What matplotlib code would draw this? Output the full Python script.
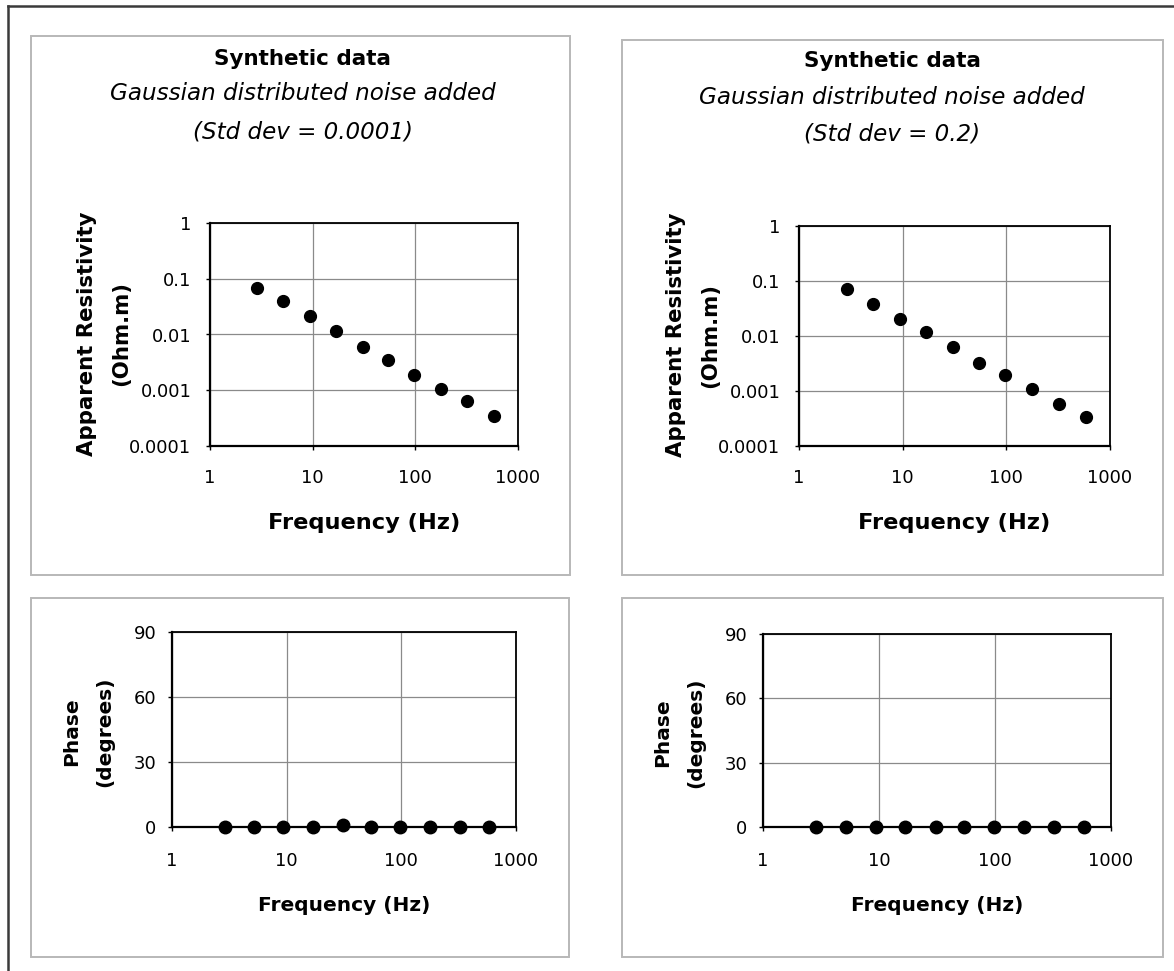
import matplotlib
matplotlib.use("Agg")
import matplotlib.pyplot as plt
from matplotlib.lines import Line2D
from matplotlib.patches import Rectangle

# frequencies (Hz)
freq = [2.88, 5.19, 9.33, 16.8, 30.9, 54.5, 97.7, 178, 322, 583]

# apparent resistivity (Ohm.m), left = std dev 0.0001, right = std dev 0.2
rho_low = [0.067, 0.040, 0.0212, 0.0114, 0.0060, 0.00349, 0.0019, 0.00105, 0.00063, 0.00035]
rho_high = [0.071, 0.0374, 0.0203, 0.0118, 0.0062, 0.00327, 0.00195, 0.00107, 0.00058, 0.00034]

# phase (degrees)
phase_low = [0, 0, 0, 0, 0.8, 0, 0, 0, 0, 0]
phase_high = [0, 0, 0, 0, 0, 0, 0, 0, 0, 0]

x_ticks = [1, 10, 100, 1000]
x_labels = ["1", "10", "100", "1000"]
rho_ticks = [0.0001, 0.001, 0.01, 0.1, 1]
rho_labels = ["0.0001", "0.001", "0.01", "0.1", "1"]
phase_ticks = [0, 30, 60, 90]
phase_labels = ["0", "30", "60", "90"]

titles = ["Synthetic data", "Synthetic data"]
subtitles = ["Gaussian distributed noise added", "Gaussian distributed noise added"]
stds = ["(Std dev = 0.0001)", "(Std dev = 0.2)"]

W, H = 1174, 971
plt.rcParams['font.family'] = ['DejaVu Sans']

fig = plt.figure(figsize=(W / 100, H / 100), dpi=100)
fig.patch.set_facecolor("white")


def fx(px):
    return px / W


def fy(py):
    return 1 - py / H


def make_axes(left, right, top, bottom):
    return fig.add_axes([fx(left), fy(bottom), (right - left) / W, (bottom - top) / H])


def style(ax, ypad, xpad):
    for side in ["top", "right", "left", "bottom"]:
        ax.spines[side].set_color("black")
        ax.spines[side].set_linewidth(1.3)
    ax.spines["left"].set_linewidth(1.6)
    ax.spines["bottom"].set_linewidth(1.6)
    ax.grid(True, which="major", color="#8a8a8a", linewidth=0.9)
    ax.set_axisbelow(True)
    ax.minorticks_off()
    ax.tick_params(axis="both", which="major", direction="out", length=3, width=1,
                   labelsize=13, colors="black")
    ax.tick_params(axis="y", pad=ypad)
    ax.tick_params(axis="x", pad=xpad)


# outer frame (top and left only)
fig.add_artist(Line2D([fx(8), 1], [fy(6.5), fy(6.5)], color="#3a3a3a", lw=1.8,
                      transform=fig.transFigure))
fig.add_artist(Line2D([fx(8), fx(8)], [fy(6.5), 0], color="#3a3a3a", lw=1.8,
                      transform=fig.transFigure))

# light panel boxes
boxes = [(31, 570, 36.5, 574.5), (622, 1163, 40, 575), (31, 569, 598, 957), (622, 1163, 598, 957)]
for l, r, t, b in boxes:
    fig.add_artist(Rectangle((fx(l), fy(b)), (r - l) / W, (b - t) / H, fill=False,
                             edgecolor="#b8b8b8", lw=1.4, transform=fig.transFigure))

# ---- resistivity panels ----
rho_axes = [(210, 518, 223, 446), (799, 1110, 226, 446)]
rho_sets = [rho_low, rho_high]
title_x = [303, 892]
title_y = [(59, 94, 132), (61, 97, 134)]
for i in range(2):
    l, r, t, b = rho_axes[i]
    ax = make_axes(l, r, t, b)
    ax.set_xscale("log")
    ax.set_yscale("log")
    ax.set_xlim(1, 1000)
    ax.set_ylim(0.0001, 1)
    ax.plot(freq, rho_sets[i], "o", color="black", markersize=8.5, clip_on=False, zorder=5)
    ax.set_xticks(x_ticks)
    ax.set_xticklabels(x_labels)
    ax.set_yticks(rho_ticks)
    ax.set_yticklabels(rho_labels)
    style(ax, 10.4, 13.3)

    fig.text(fx(title_x[i]), fy(title_y[i][0]), titles[i], ha="center", va="center",
             fontsize=15.5, fontweight="bold")
    fig.text(fx(title_x[i]), fy(title_y[i][1]), subtitles[i], ha="center", va="center",
             fontsize=16.6, style="italic")
    fig.text(fx(title_x[i]), fy(title_y[i][2]), stds[i], ha="center", va="center",
             fontsize=16.6, style="italic")

    yc = (t + b) / 2 - 1
    fig.text(fx(l - 123), fy(yc), "Apparent Resistivity", rotation=90, ha="center",
             va="center", fontsize=15.3, fontweight="bold")
    fig.text(fx(l - 89), fy(yc), "(Ohm.m)", rotation=90, ha="center", va="center",
             fontsize=15.3, fontweight="bold")
    fig.text(fx((l + r) / 2), fy(523), "Frequency (Hz)", ha="center", va="center",
             fontsize=16.2, fontweight="bold")

# ---- phase panels ----
phase_axes = [(172, 516, 632, 827), (763, 1111, 634, 827)]
phase_sets = [phase_low, phase_high]
for i in range(2):
    l, r, t, b = phase_axes[i]
    ax = make_axes(l, r, t, b)
    ax.set_xscale("log")
    ax.set_xlim(1, 1000)
    ax.set_ylim(0, 90)
    ax.plot(freq, phase_sets[i], "o", color="black", markersize=9, clip_on=False, zorder=5)
    ax.set_xticks(x_ticks)
    ax.set_xticklabels(x_labels)
    ax.set_yticks(phase_ticks)
    ax.set_yticklabels(phase_labels)
    style(ax, 8.3, 15)

    yc = (t + b) / 2 + 2
    fig.text(fx(l - 100), fy(yc), "Phase", rotation=90, ha="center", va="center",
             fontsize=14.5, fontweight="bold")
    fig.text(fx(l - 67), fy(yc), "(degrees)", rotation=90, ha="center", va="center",
             fontsize=14.5, fontweight="bold")
    fig.text(fx((l + r) / 2), fy(905), "Frequency (Hz)", ha="center", va="center",
             fontsize=14.5, fontweight="bold")

fig.savefig("out.png", dpi=100, facecolor="white")
